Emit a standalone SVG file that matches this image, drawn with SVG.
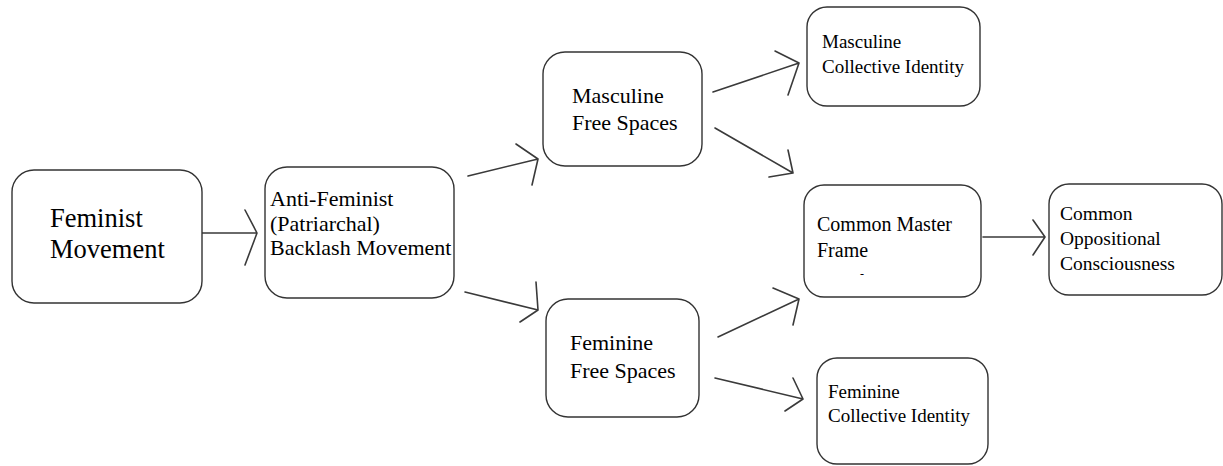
<svg xmlns="http://www.w3.org/2000/svg" width="1223" height="466" viewBox="0 0 1223 466">
<style>
.box{fill:#fff;stroke:#333;stroke-width:1.4}
.t{font-family:'Liberation Serif','Times New Roman',serif;fill:#000}
.c{stroke:#3a3a3a;stroke-width:1.6;fill:none;stroke-linecap:round;stroke-linejoin:round}
</style>
<rect width="1223" height="466" fill="#fff"/>
<g id="connectors">
<path class="c" d="M202 233 L257 233 M245 210 L257 233 L245 265"/>
<path class="c" d="M468 176 L538 159 M516 144 L538 159 L532 185"/>
<path class="c" d="M465 292 L538 310 M536 282 L538 310 L520 322"/>
<path class="c" d="M713 92 L799 63 M775 51 L799 63 L788 95"/>
<path class="c" d="M715 128 L793 173 M788 150 L793 173 L769 177"/>
<path class="c" d="M718 337 L799 299 M773 288 L799 299 L793 325"/>
<path class="c" d="M715 378 L803 399 M793 378 L803 399 L785 411"/>
<path class="c" d="M983 237 L1045 237 M1033 220 L1045 237 L1033 255"/>
</g>
<g id="feminist-movement">
<rect class="box" x="12" y="170" width="190" height="133" rx="22"/>
<text class="t" font-size="26.5" x="50" y="227">Feminist</text>
<text class="t" font-size="26.5" x="50" y="258">Movement</text>
</g>
<g id="anti-feminist">
<rect class="box" x="265" y="167" width="189" height="131" rx="22"/>
<text class="t" font-size="22" x="270" y="206">Anti-Feminist</text>
<text class="t" font-size="22" x="270" y="231">(Patriarchal)</text>
<text class="t" font-size="22" x="270" y="255">Backlash Movement</text>
</g>
<g id="masculine-free-spaces">
<rect class="box" x="543" y="52" width="159" height="114" rx="22"/>
<text class="t" font-size="22" x="572" y="103">Masculine</text>
<text class="t" font-size="22" x="572" y="130">Free Spaces</text>
</g>
<g id="feminine-free-spaces">
<rect class="box" x="546" y="299" width="153" height="118" rx="22"/>
<text class="t" font-size="22" x="570" y="350">Feminine</text>
<text class="t" font-size="22" x="570" y="378">Free Spaces</text>
</g>
<g id="masculine-collective-identity">
<rect class="box" x="807" y="7" width="173" height="99" rx="20"/>
<text class="t" font-size="19" x="822" y="48">Masculine</text>
<text class="t" font-size="19" x="822" y="73">Collective Identity</text>
</g>
<g id="common-master-frame">
<rect class="box" x="804" y="185" width="177" height="112" rx="20"/>
<text class="t" font-size="20" x="817" y="231">Common Master</text>
<text class="t" font-size="20" x="817" y="257">Frame</text>
<text class="t" font-size="12" x="860" y="278">-</text>
</g>
<g id="common-oppositional-consciousness">
<rect class="box" x="1049" y="184" width="173" height="111" rx="20"/>
<text class="t" font-size="19.5" x="1060" y="220">Common</text>
<text class="t" font-size="19.5" x="1060" y="245">Oppositional</text>
<text class="t" font-size="19.5" x="1060" y="270">Consciousness</text>
</g>
<g id="feminine-collective-identity">
<rect class="box" x="817" y="358" width="171" height="106" rx="20"/>
<text class="t" font-size="19" x="828" y="398">Feminine</text>
<text class="t" font-size="19" x="828" y="422">Collective Identity</text>
</g>
</svg>
